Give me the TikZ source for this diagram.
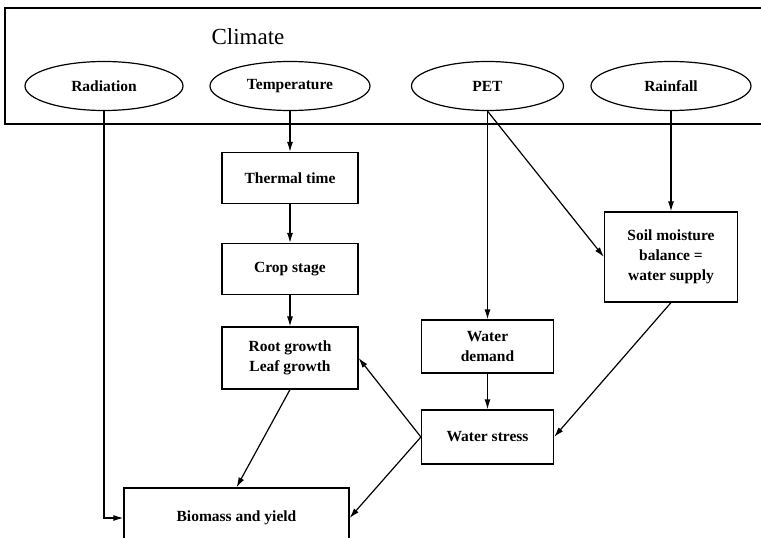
\documentclass[tikz,border=0pt]{standalone}
\usepackage{fontspec}
\setmainfont{Liberation Serif}
\usetikzlibrary{arrows.meta,shapes.geometric}
\tikzset{
  conn/.style={draw, line width=1.2pt, -{Latex[length=10pt,width=6pt]}},
  ell/.style={draw, ellipse, line width=1.2pt, minimum height=49pt, inner sep=0pt,
    font=\bfseries\fontsize{15.5}{20}\selectfont},
  boxn/.style={draw, rectangle, line width=1.2pt, inner sep=0pt, align=center,
    font=\bfseries\fontsize{15.5}{20}\selectfont}
}
\begin{document}
\begin{tikzpicture}[x=1pt,y=-1pt]
\useasboundingbox (0,0) rectangle (761,538);
\clip (0,0) rectangle (761,538);
% climate frame
\draw[line width=1.2pt] (5,8) rectangle (775,124);
\node[font=\fontsize{23}{26}\selectfont] (climate) at (248,37) {Climate};
% ellipses
\node[ell, minimum width=158pt] (rad) at (104,86) {Radiation};
\node[ell, minimum width=160pt] (temp) at (290,86) {Temperature};
\node[ell, minimum width=152pt] (pet) at (487.5,86) {PET};
\node[ell, minimum width=160pt] (rain) at (671,86) {Rainfall};
% boxes
\node[boxn, minimum width=136pt, minimum height=51pt] (thermal) at (290,178) {Thermal time};
\node[boxn, minimum width=136pt, minimum height=51pt] (crop) at (290,269) {Crop stage};
\node[boxn, minimum width=136pt, minimum height=62pt] (root) at (290,358) {Root growth\\Leaf growth};
\node[boxn, minimum width=225pt, minimum height=60pt] (bio) at (236.5,518) {Biomass and yield};
\node[boxn, minimum width=132pt, minimum height=53pt] (wd) at (487.5,346.5) {Water\\demand};
\node[boxn, minimum width=132pt, minimum height=54pt] (ws) at (487.5,437) {Water stress};
\node[boxn, minimum width=133pt, minimum height=90pt] (soil) at (671,257) {Soil moisture\\balance =\\water supply};
% connectors
\draw[conn] (rad.south) |- (bio.west);
\draw[conn] (temp.south) -- (thermal.north);
\draw[conn] (thermal.south) -- (crop.north);
\draw[conn] (crop.south) -- (root.north);
\draw[conn] (root.south) -- (bio.north);
\draw[conn] (pet.south) -- (wd.north);
\draw[conn] (pet.south) -- (soil.west);
\draw[conn] (rain.south) -- (soil.north);
\draw[conn] (wd.south) -- (ws.north);
\draw[conn] (soil.south) -- (ws.east);
\draw[conn] (ws.west) -- (root.east);
\draw[conn] (ws.west) -- (bio.east);
\end{tikzpicture}
\end{document}
